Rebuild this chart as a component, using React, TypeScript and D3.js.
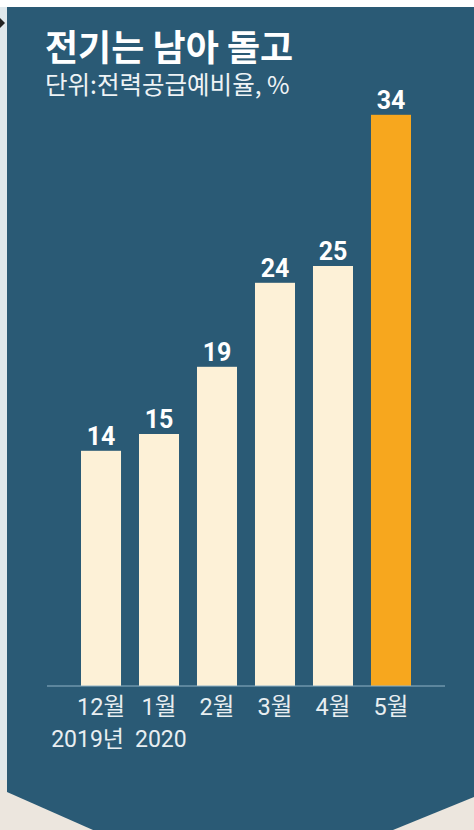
import React from "react";
import * as d3 from "d3";

const categories = ["12월", "1월", "2월", "3월", "4월", "5월"];
const values = [14, 15, 19, 24, 25, 34];
const subLabels = ["2019년", "2020", "", "", "", ""];
const title = "전기는 남아 돌고";
const subtitle = "단위:전력공급예비율, %";

const W = 474;
const H = 830;
const PANEL = "#2a5a75";
const CREAM = "#fdf1d7";
const ORANGE = "#f7a71e";

export default function App() {
  const x = d3.scaleBand<string>().domain(categories).range([81, 411]).paddingInner(0.31).paddingOuter(0);
  const y = d3.scaleLinear().domain([0, 40]).range([686, 14]);
  const base = y(0);

  const panelPath = `M7,7 L${W},7 L${W},797 L393,${H} L93,${H} L7,792 Z`;

  return (
    <svg width={W} height={H} style={{ position: "absolute", left: 0, top: 0 }}>
      <rect x={0} y={0} width={W} height={H} fill="#ffffff" />
      <rect x={0} y={7} width={7} height={H} fill="#dfe8ec" />
      <rect x={0} y={780} width={W} height={50} fill="#ece6de" />
      <path d="M0,18 L5,23 L0,28 Z" fill="#222" />
      <path d={panelPath} fill={PANEL} />
      <text x={45} y={61} fill="#ffffff" fontFamily="'Noto Sans CJK KR', sans-serif" fontWeight={700} fontSize={36}>
        {title}
      </text>
      <text x={45} y={94} fill="#eef3f5" fontFamily="'Noto Sans CJK KR', sans-serif" fontWeight={400} fontSize={24.5}>
        {subtitle}
      </text>
      {categories.map((c, i) => (
        <rect
          key={c}
          x={x(c)}
          y={y(values[i])}
          width={x.bandwidth()}
          height={base - y(values[i])}
          fill={i === categories.length - 1 ? ORANGE : CREAM}
        />
      ))}
      {categories.map((c, i) => (
        <text
          key={"v" + c}
          x={(x(c) as number) + x.bandwidth() / 2}
          y={y(values[i]) - 6}
          textAnchor="middle"
          fill="#ffffff"
          fontFamily="Roboto, 'Noto Sans', sans-serif"
          fontWeight={700}
          fontSize={25}
        >
          {values[i]}
        </text>
      ))}
      <line x1={47} x2={445} y1={base} y2={base} stroke="#8fb2c6" strokeWidth={1} />
      {categories.map((c, i) => (
        <text
          key={"l" + c}
          x={(x(c) as number) + x.bandwidth() / 2}
          y={715}
          textAnchor="middle"
          fill="#e8eef1"
          fontFamily="Roboto, 'Noto Sans CJK KR', sans-serif"
          fontSize={23.5}
        >
          {c}
        </text>
      ))}
      {categories.map((c, i) =>
        subLabels[i] ? (
          <text
            key={"s" + c}
            x={i === 0 ? (x(c) as number) + x.bandwidth() + 3 : (x(c) as number) - 4}
            y={747}
            textAnchor={i === 0 ? "end" : "start"}
            fill="#e8eef1"
            fontFamily="Roboto, 'Noto Sans CJK KR', sans-serif"
            fontSize={23}
          >
            {subLabels[i]}
          </text>
        ) : null
      )}
    </svg>
  );
}
